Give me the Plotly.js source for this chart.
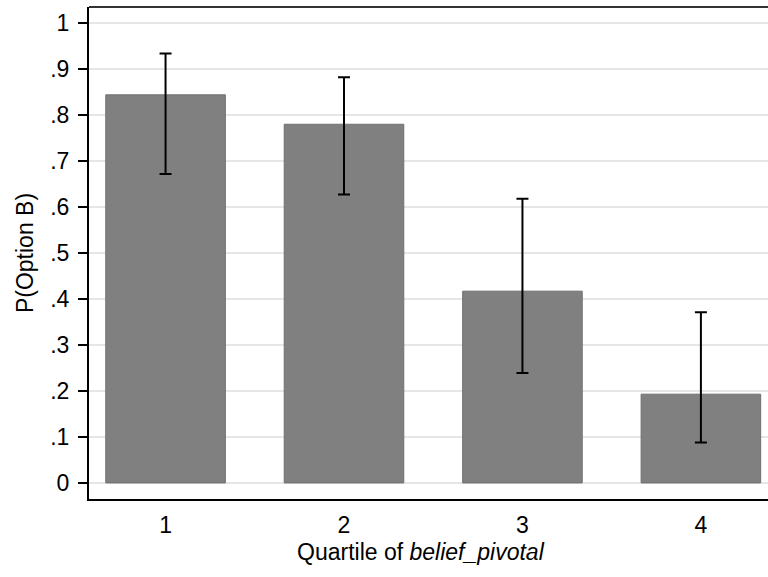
<!DOCTYPE html>
<html>
<head>
<meta charset="utf-8">
<script src="https://cdn.plot.ly/plotly-3.0.1.min.js"></script>
<style>html,body{margin:0;padding:0;background:#fff;}#chart{width:768px;height:577px;}</style>
</head>
<body>
<div id="chart"></div>
<script>
var quartiles = [1, 2, 3, 4];
var quartileLabels = ["1", "2", "3", "4"];
var probOptionB = [0.844, 0.780, 0.417, 0.193];
var ciLower = [0.672, 0.627, 0.239, 0.088];
var ciUpper = [0.934, 0.882, 0.618, 0.371];
var yTickVals = [0, 0.1, 0.2, 0.3, 0.4, 0.5, 0.6, 0.7, 0.8, 0.9, 1];
var yTickText = ["0", ".1", ".2", ".3", ".4", ".5", ".6", ".7", ".8", ".9", "1"];

var errPlus = probOptionB.map(function (v, i) { return ciUpper[i] - v; });
var errMinus = probOptionB.map(function (v, i) { return v - ciLower[i]; });

var trace = {
  type: 'bar',
  x: quartiles,
  y: probOptionB,
  width: 0.67,
  marker: { color: '#808080', line: { color: '#707070', width: 1 } },
  error_y: {
    type: 'data', symmetric: false,
    array: errPlus, arrayminus: errMinus,
    color: '#000000', thickness: 2, width: 6
  },
  hoverinfo: 'none'
};

var font = { family: '"Liberation Sans", Arial, sans-serif', size: 23, color: '#000' };

var layout = {
  width: 768, height: 577,
  margin: { l: 89, r: 0, t: 7, b: 78 },
  paper_bgcolor: '#fff', plot_bgcolor: '#fff',
  font: font,
  showlegend: false,
  xaxis: {
    range: [0.571, 4.376],
    tickvals: quartiles, ticktext: quartileLabels,
    showgrid: false, zeroline: false,
    showline: true, linecolor: '#000', linewidth: 2,
    ticks: '', ticklabelstandoff: 4,
    tickfont: font
  },
  yaxis: {
    range: [-0.035, 1.035],
    tickvals: yTickVals, ticktext: yTickText,
    showgrid: true, gridcolor: '#e6e6e6', gridwidth: 2,
    zeroline: false,
    showline: true, linecolor: '#000', linewidth: 2,
    ticks: 'outside', ticklen: 9, tickwidth: 2, tickcolor: '#000',
    ticklabelstandoff: 4,
    tickfont: font,
    title: { text: 'P(Option B)', font: font, standoff: 10 }
  },
  annotations: [{
    text: 'Quartile of <i>belief_pivotal</i>',
    xref: 'paper', yref: 'paper',
    x: 0.489, y: -0.107,
    xanchor: 'center', yanchor: 'middle',
    showarrow: false, font: font
  }],
  shapes: [{
    type: 'line', xref: 'paper', yref: 'paper',
    x0: 0, x1: 1, y0: 1, y1: 1,
    line: { color: '#333333', width: 2 }
  }]
};

Plotly.newPlot('chart', [trace], layout, { staticPlot: true, displayModeBar: false });
</script>
</body>
</html>
